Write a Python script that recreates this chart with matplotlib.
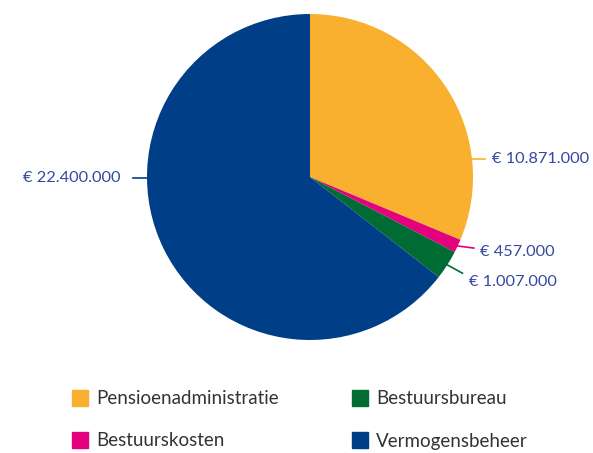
import numpy as np
import matplotlib
matplotlib.use('Agg')
import matplotlib.pyplot as plt
from matplotlib.patches import Rectangle

# data
categories = ['Pensioenadministratie', 'Bestuurskosten', 'Bestuursbureau', 'Vermogensbeheer']
values = [10871000, 457000, 1007000, 22400000]
value_labels = ['€ 10.871.000', '€ 457.000', '€ 1.007.000', '€ 22.400.000']
colors = ['#F9B02F', '#E5007D', '#006B33', '#003F87']
legend_order = [0, 2, 1, 3]  # two columns: row by row

label_color = '#3549A0'
text_color = '#333333'
plt.rcParams['font.family'] = ['Lato', 'DejaVu Sans']

W, H = 593, 453
fig = plt.figure(figsize=(W / 100, H / 100), dpi=100)

# pie axes, centre (310,177) radius 163 px
cx, cy, r = 310, 177, 163
ax = fig.add_axes([(cx - r) / W, (H - cy - r) / H, 2 * r / W, 2 * r / H])
wedges, _ = ax.pie(values, colors=colors, startangle=90, counterclock=False,
                   radius=1, wedgeprops=dict(linewidth=0))
ax.set_xlim(-1, 1)
ax.set_ylim(-1, 1)
ax.set_aspect('equal')
ax.axis('off')

# label placement (angle on rim in degrees, line end, text pos)
tot = float(sum(values))
fr = np.array(values) / tot
mids = 90 - 360 * (np.cumsum(fr) - fr / 2)
angles = [6.3, mids[1], mids[2], 180.4]
line_ends = [(1.074, None), (1.005, -0.436), (0.935, -0.590), (-1.087, None)]
text_pos = [(1.117, 0.0), (1.045, -0.458), (0.975, -0.645), (-1.16, 0.0)]
for i in range(len(values)):
    a = np.deg2rad(angles[i])
    x0, y0 = np.cos(a), np.sin(a)
    lx, ly = line_ends[i]
    if ly is None:
        ly = y0
    tx, ty = text_pos[i]
    if i in (0, 3):
        ty = y0
    ax.plot([x0, lx], [y0, ly], color=colors[i], lw=1.2, clip_on=False)
    ha = 'right' if tx < 0 else 'left'
    ax.text(tx, ty, value_labels[i], color=label_color, fontsize=11.8,
            ha=ha, va='center', clip_on=False)

# legend, drawn by hand
for k, idx in enumerate(legend_order):
    row, col = divmod(k, 2)
    sx = 72 + col * 280
    sy = 390 + row * 42
    fig.patches.append(Rectangle((sx / W, 1 - (sy + 16) / H), 16 / W, 16 / H,
                                 transform=fig.transFigure, color=colors[idx]))
    fig.text((sx + 24) / W, 1 - (sy + 9) / H, categories[idx], color=text_color,
             fontsize=13.5, ha='left', va='center')

fig.savefig('out.png', dpi=100)
